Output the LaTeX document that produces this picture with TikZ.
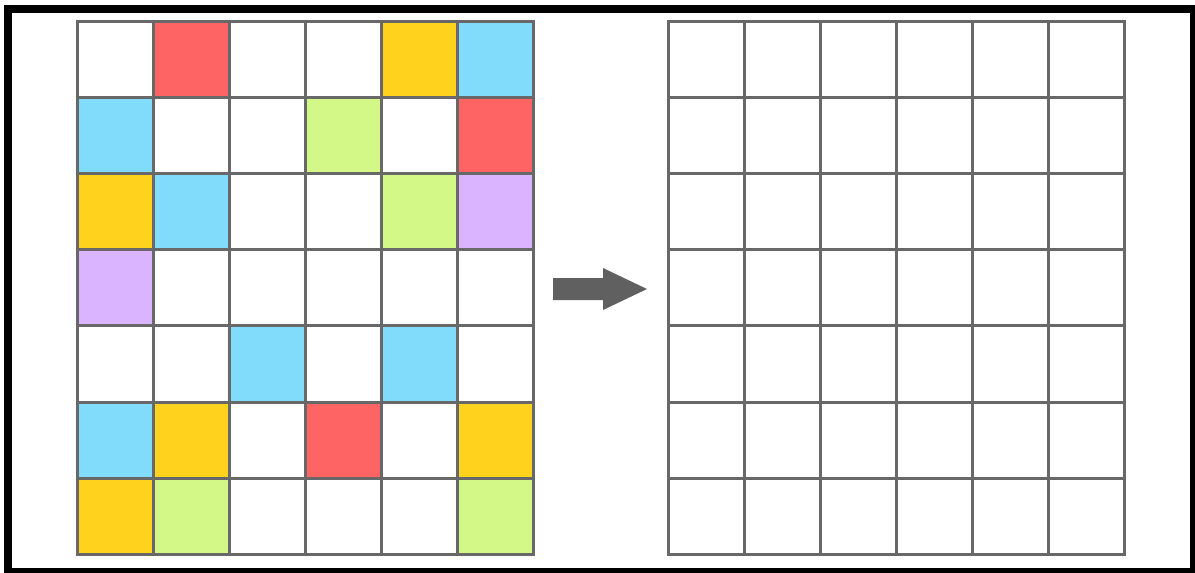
\documentclass[tikz,border=0pt]{standalone}
\usetikzlibrary{calc}
\definecolor{cR}{HTML}{FF6464}
\definecolor{cY}{HTML}{FFD21E}
\definecolor{cB}{HTML}{80DCFA}
\definecolor{cG}{HTML}{D4F888}
\definecolor{cP}{HTML}{DAB4FF}
\definecolor{cW}{HTML}{FFFFFF}
\definecolor{gridgray}{HTML}{686868}
\definecolor{arrowgray}{HTML}{606060}
\tikzset{
  cell/.style={draw=gridgray, line width=3pt, minimum width=76pt, minimum height=76.2pt, inner sep=0pt, outer sep=0pt, anchor=north west},
  frame/.style={draw=black, line width=8pt},
  bigarrow/.style={fill=arrowgray, draw=none}
}
\begin{document}
\begin{tikzpicture}[x=1pt,y=-1pt]
\useasboundingbox (0,0) rectangle (1195,573);
\fill[white] (0,0) rectangle (1195,573);
% left grid
\foreach \row [count=\r from 0] in {
  {cW,cR,cW,cW,cY,cB},
  {cB,cW,cW,cG,cW,cR},
  {cY,cB,cW,cW,cG,cP},
  {cP,cW,cW,cW,cW,cW},
  {cW,cW,cB,cW,cB,cW},
  {cB,cY,cW,cR,cW,cY},
  {cY,cG,cW,cW,cW,cG}} {
  \foreach \col [count=\c from 0] in \row {
    \node[cell, fill=\col] (L-\r-\c) at ({77+76*\c},{21+76.2*\r}) {};
  }
}
% right grid
\foreach \r in {0,...,6} {
  \foreach \c in {0,...,5} {
    \node[cell, fill=white] (R-\r-\c) at ({668+76.1*\c},{21+76.2*\r}) {};
  }
}
% arrow
\coordinate (A0) at (553,289);
\fill[bigarrow] (553,278) -- (603,278) -- (603,268) -- (647,289) -- (603,310) -- (603,300) -- (553,300) -- cycle;
% outer frame
\draw[frame] (8,8.5) rectangle (1194,572);
\end{tikzpicture}
\end{document}
